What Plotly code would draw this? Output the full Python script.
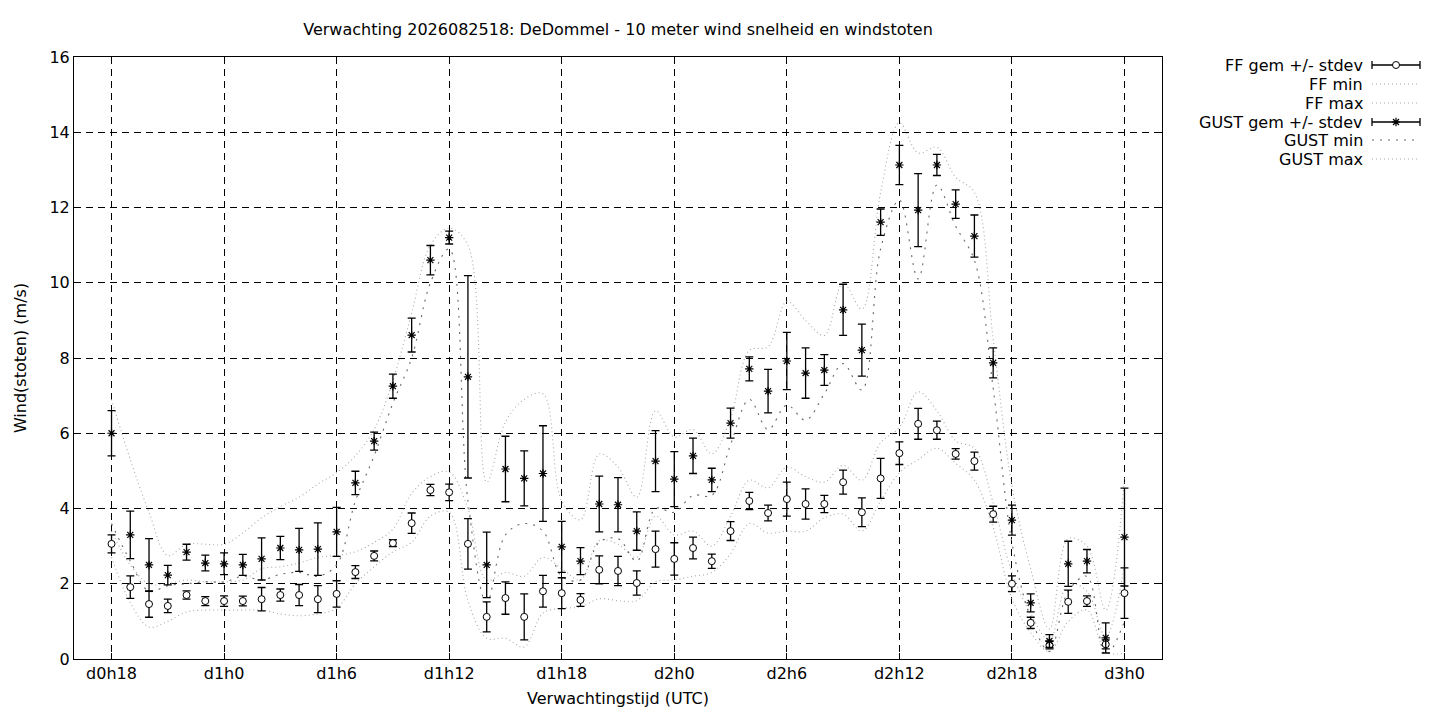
import plotly.graph_objects as go

# forecast hours relative to d0h0
hours = list(range(18, 73))

ff_mean = [3.06, 1.91, 1.46, 1.41, 1.70, 1.54, 1.54, 1.54, 1.59, 1.70, 1.70, 1.59, 1.73,
           2.31, 2.74, 3.08, 3.61, 4.49, 4.43, 3.06, 1.12, 1.62, 1.12, 1.80, 1.75, 1.57,
           2.37, 2.34, 2.02, 2.92, 2.66, 2.95, 2.60, 3.40, 4.20, 3.88, 4.25, 4.12, 4.12,
           4.70, 3.90, 4.80, 5.47, 6.25, 6.08, 5.45, 5.26, 3.85, 2.00, 0.96, 0.37, 1.52,
           1.54, 0.39, 1.75]
ff_sd = [0.24, 0.30, 0.35, 0.18, 0.11, 0.12, 0.14, 0.13, 0.31, 0.16, 0.28, 0.36, 0.35,
         0.17, 0.13, 0.09, 0.27, 0.15, 0.22, 0.67, 0.40, 0.43, 0.61, 0.42, 0.41, 0.17,
         0.37, 0.39, 0.32, 0.48, 0.43, 0.29, 0.19, 0.25, 0.23, 0.21, 0.45, 0.40, 0.23,
         0.32, 0.38, 0.53, 0.30, 0.41, 0.24, 0.14, 0.24, 0.21, 0.21, 0.15, 0.10, 0.31,
         0.14, 0.12, 0.67]
ff_min = [2.70, 1.50, 0.85, 1.00, 1.25, 1.30, 1.30, 1.30, 1.30, 1.20, 1.15, 1.20, 1.35,
          2.00, 2.45, 2.85, 3.10, 3.80, 3.90, 1.55, 0.55, 0.55, 0.32, 1.22, 1.35, 1.38,
          1.60, 1.55, 1.55, 2.05, 2.10, 2.20, 2.30, 2.80, 3.60, 3.35, 3.40, 3.40, 3.75,
          3.85, 3.40, 4.20, 4.95, 5.30, 5.60, 5.20, 4.75, 3.50, 1.60, 0.70, 0.20, 1.00,
          1.30, 0.20, 0.15]
ff_max = [3.40, 2.50, 2.00, 2.00, 2.10, 2.05, 2.05, 2.10, 2.40, 2.45, 2.55, 2.70, 2.75,
          2.85, 3.10, 3.45, 4.40, 4.85, 4.97, 4.00, 2.10, 2.30, 2.20, 2.70, 2.40, 2.10,
          3.15, 3.05, 2.70, 3.80, 3.30, 3.40, 3.00, 3.80, 4.75, 4.55, 5.10, 4.85, 4.70,
          5.15, 4.75, 5.75, 6.15, 7.10, 6.60, 5.80, 5.60, 4.15, 2.30, 1.20, 0.50, 2.00,
          1.80, 0.60, 2.50]

gust_mean = [6.00, 3.30, 2.50, 2.23, 2.84, 2.55, 2.53, 2.50, 2.66, 2.95, 2.90, 2.92, 3.38,
             4.68, 5.79, 7.25, 8.61, 10.60, 11.20, 7.50, 2.50, 5.05, 4.80, 4.93, 2.98, 2.60,
             4.12, 4.10, 3.40, 5.26, 4.78, 5.40, 4.76, 6.27, 7.71, 7.12, 7.92, 7.60, 7.68,
             9.28, 8.21, 11.61, 13.13, 11.93, 13.13, 12.09, 11.24, 7.87, 3.69, 1.49, 0.48,
             2.53, 2.60, 0.56, 3.24]
gust_sd = [0.60, 0.63, 0.70, 0.26, 0.21, 0.21, 0.29, 0.28, 0.56, 0.31, 0.57, 0.70, 0.65,
           0.31, 0.24, 0.32, 0.45, 0.39, 0.17, 2.69, 0.87, 0.87, 0.73, 1.27, 0.68, 0.36,
           0.74, 0.72, 0.51, 0.81, 0.73, 0.47, 0.31, 0.40, 0.32, 0.58, 0.76, 0.67, 0.41,
           0.68, 0.69, 0.35, 0.52, 0.97, 0.28, 0.38, 0.56, 0.40, 0.40, 0.24, 0.17, 0.60,
           0.31, 0.40, 1.30]
gust_min = [3.60, 2.60, 1.80, 1.95, 2.00, 2.05, 2.05, 2.20, 2.10, 2.25, 2.30, 2.20, 2.50,
            4.20, 5.40, 6.80, 8.00, 10.00, 10.90, 4.20, 1.50, 3.30, 3.60, 3.40, 2.20, 2.10,
            3.10, 3.20, 2.60, 4.00, 3.90, 4.35, 4.35, 5.70, 6.90, 6.10, 6.75, 6.35, 7.05,
            7.85, 7.15, 10.90, 12.20, 10.10, 12.60, 11.50, 10.60, 7.20, 3.10, 1.10, 0.20,
            1.80, 2.20, 0.10, 1.00]
gust_max = [6.90, 5.30, 3.90, 2.75, 3.05, 3.05, 3.05, 3.35, 3.75, 4.05, 4.30, 4.65, 4.95,
            5.40, 6.10, 7.40, 9.20, 11.00, 11.45, 11.00, 4.70, 6.30, 6.90, 7.05, 4.20, 3.70,
            5.45, 5.10, 4.30, 6.60, 5.90, 6.10, 5.45, 6.40, 8.20, 8.30, 9.50, 9.00, 8.60,
            10.00, 9.30, 12.40, 14.25, 13.45, 13.60, 12.80, 12.40, 8.50, 4.60, 2.40, 0.80,
            3.20, 3.00, 1.30, 4.80]

tick_hours = [18, 24, 30, 36, 42, 48, 54, 60, 66, 72]
tick_labels = ['d0h18', 'd1h0', 'd1h6', 'd1h12', 'd1h18', 'd2h0', 'd2h6', 'd2h12', 'd2h18', 'd3h0']

legend_names = ['FF gem +/- stdev', 'FF min', 'FF max', 'GUST gem +/- stdev', 'GUST min', 'GUST max']

FONT = 'DejaVu Sans'
FS = 16
LIGHT = '#a8a8a8'
DARK = '#686868'
DOT = '1px,3px'
GUST_MIN_DASH = '2px,6px'

# page layout in pixels (browser page 1440x720, body has an 8px margin)
PAGE_OFF = 8
FIG_W, FIG_H = 1440 - 2 * PAGE_OFF, 720 - 2 * PAGE_OFF
L, R, T, B = 74, 1162, 57, 659          # wanted plot box, page pixels
M_L, M_R = L - PAGE_OFF, 4
M_T, M_B = T - PAGE_OFF, FIG_H - (B - PAGE_OFF)
AREA_W = FIG_W - M_L - M_R
X_RIGHT = 1440 - PAGE_OFF - M_R            # page x of the right edge of the paper area
KEY_LEFT = 1180                            # page x where the key area starts

line_styles = {'FF min': (LIGHT, DOT), 'FF max': (LIGHT, DOT),
               'GUST min': (DARK, GUST_MIN_DASH), 'GUST max': (LIGHT, DOT)}

fig = go.Figure()

# min / max envelopes (smoothed dotted lines)
for name, ys in [('FF min', ff_min), ('FF max', ff_max), ('GUST min', gust_min), ('GUST max', gust_max)]:
    col, dash = line_styles[name]
    fig.add_trace(go.Scatter(x=hours, y=ys, mode='lines', name=name,
                             line=dict(color=col, width=1.1, dash=dash, shape='spline', smoothing=1)))

ff_marker = dict(symbol='circle', size=7, color='white', line=dict(color='black', width=1))
gust_marker = dict(symbol='asterisk-open', size=7, color='black', line=dict(color='black', width=1.2))

# means with stdev bars
fig.add_trace(go.Scatter(x=hours, y=ff_mean, mode='markers', name=legend_names[0], marker=ff_marker,
                         error_y=dict(type='data', array=ff_sd, color='black', thickness=1.3, width=4)))
fig.add_trace(go.Scatter(x=hours, y=gust_mean, mode='markers', name=legend_names[3], marker=gust_marker,
                         error_y=dict(type='data', array=gust_sd, color='black', thickness=1.3, width=4)))

# gnuplot style key: text right aligned, sample on the right; drawn on a hidden
# pixel-scaled axis pair right of the plot box
row_y = [65, 84, 103, 122, 140, 159]
key_x0, key_x1, key_text = 1372, 1420, 1365
key_mid = (key_x0 + key_x1) / 2
annotations = []
for i, name in enumerate(legend_names):
    y = row_y[i]
    annotations.append(dict(x=key_text, y=y, xref='x2', yref='y2', text=name, showarrow=False,
                            xanchor='right', yanchor='middle', font=dict(family=FONT, size=FS)))
    if i in (0, 3):
        fig.add_trace(go.Scatter(x=[key_mid], y=[y], mode='markers', xaxis='x2', yaxis='y2',
                                 marker=ff_marker if i == 0 else gust_marker,
                                 error_x=dict(type='data', array=[(key_x1 - key_x0) / 2],
                                              color='black', thickness=1.3, width=4)))
    else:
        col, dash = line_styles[name]
        fig.add_trace(go.Scatter(x=[key_x0, key_x1], y=[y, y], mode='lines', xaxis='x2', yaxis='y2',
                                 line=dict(color=col, width=1.1, dash=dash)))

axis_common = dict(showgrid=True, gridcolor='black', griddash='7px,5px', gridwidth=1,
                   showline=True, linecolor='black', linewidth=1, mirror='allticks',
                   ticks='inside', ticklen=6, tickcolor='black', zeroline=False,
                   tickfont=dict(family=FONT, size=FS, color='black'))

fig.update_layout(
    width=FIG_W, height=FIG_H,
    margin=dict(l=M_L, r=M_R, t=M_T, b=M_B),
    paper_bgcolor='white', plot_bgcolor='rgba(0,0,0,0)',
    font=dict(family=FONT, size=FS, color='black'),
    title=dict(text='Verwachting 2026082518: DeDommel - 10 meter wind snelheid en windstoten',
               xref='paper', x=((L + R) / 2 - L) / AREA_W, xanchor='center',
               yref='container', y=1 - (29 - PAGE_OFF) / FIG_H, yanchor='middle',
               font=dict(family=FONT, size=FS, color='black')),
    showlegend=False,
    annotations=annotations,
    xaxis=dict(axis_common, domain=[0, (R - L) / AREA_W], range=[16, 74],
               tickvals=tick_hours, ticktext=tick_labels,
               title=dict(text='Verwachtingstijd (UTC)', standoff=10,
                          font=dict(family=FONT, size=FS, color='black'))),
    yaxis=dict(axis_common, range=[0, 16], tickvals=list(range(0, 17, 2)),
               title=dict(text='Wind(stoten) (m/s)', standoff=18,
                          font=dict(family=FONT, size=FS, color='black'))),
    xaxis2=dict(domain=[(KEY_LEFT - L) / AREA_W, 1], range=[KEY_LEFT, X_RIGHT],
                anchor='y2', visible=False),
    yaxis2=dict(domain=[0, 1], range=[B, T], anchor='x2', visible=False),
)

fig.write_html('out.html')
